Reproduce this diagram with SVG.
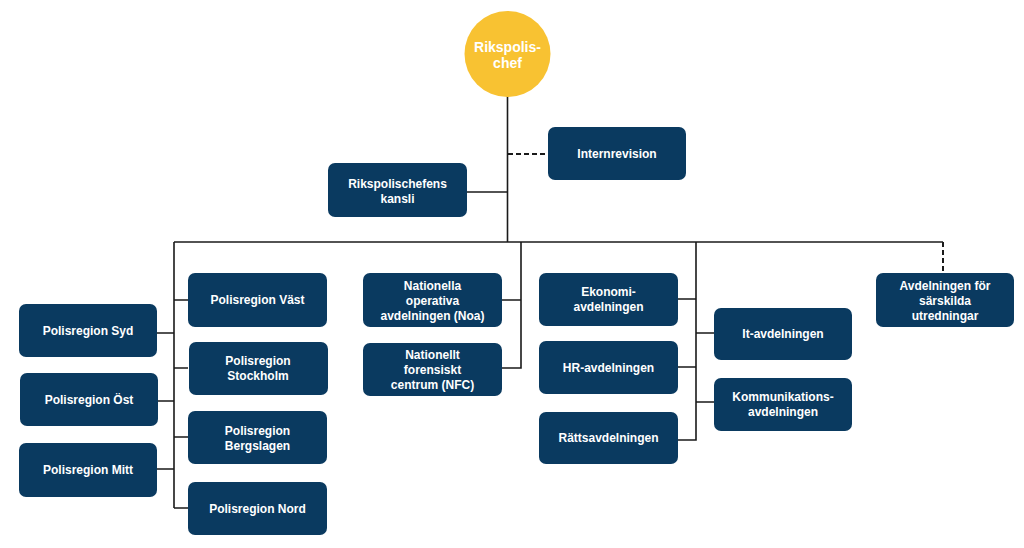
<svg xmlns="http://www.w3.org/2000/svg" width="1024" height="548" viewBox="0 0 1024 548">
<style>
.box{fill:#0A3A60}
.t{font-family:"Liberation Sans",Arial,sans-serif;font-weight:bold;font-size:12px;fill:#fff;text-anchor:middle}
.c{font-size:14px}
.ln{stroke:#1a1a1a;stroke-width:1.6;fill:none}
.d{stroke-dasharray:5,3;stroke-width:2}
</style>
<rect width="1024" height="548" fill="#fff"/>
<g id="connectors">
<path class="ln" d="M507.5,96 V242"/>
<path class="ln" d="M467,192 H507.5"/>
<path class="ln d" d="M508,154 H548"/>
<path class="ln" d="M174,242 H943"/>
<path class="ln d" d="M943,242 V273"/>
<path class="ln" d="M174,242 V508 M157,333 H174 M157,401 H174 M157,469 H174 M174,300 H188 M174,368 H188 M174,437 H188 M174,508 H188"/>
<path class="ln" d="M521,242 V368 H502 M502,300 H521"/>
<path class="ln" d="M696,242 V440 H678 M678,299 H696 M678,367 H696 M696,333 H714 M696,402 H714"/>
</g>
<g id="rikspolischef"><circle cx="507.5" cy="54" r="43" fill="#F8C232"/><text class="t c" x="507.5" y="52">Rikspolis-</text><text class="t c" x="507.5" y="68">chef</text></g>
<g id="internrevision"><rect class="box" x="548" y="127" width="138" height="53" rx="7"/><text class="t" x="617" y="158">Internrevision</text></g>
<g id="kansli"><rect class="box" x="328" y="163" width="139" height="54" rx="7"/><text class="t" x="397.5" y="188">Rikspolischefens</text><text class="t" x="397.5" y="203">kansli</text></g>
<g id="syd"><rect class="box" x="19" y="304" width="138" height="53" rx="7"/><text class="t" x="88" y="335">Polisregion Syd</text></g>
<g id="ost"><rect class="box" x="20" y="373" width="138" height="53" rx="7"/><text class="t" x="89" y="404">Polisregion Öst</text></g>
<g id="mitt"><rect class="box" x="19" y="443" width="138" height="54" rx="7"/><text class="t" x="88" y="474">Polisregion Mitt</text></g>
<g id="vast"><rect class="box" x="188" y="273" width="139" height="54" rx="7"/><text class="t" x="257.5" y="304">Polisregion Väst</text></g>
<g id="stockholm"><rect class="box" x="189" y="342" width="139" height="53" rx="7"/><text class="t" x="258" y="365">Polisregion</text><text class="t" x="258" y="380">Stockholm</text></g>
<g id="bergslagen"><rect class="box" x="188" y="411" width="139" height="53" rx="7"/><text class="t" x="257.5" y="435">Polisregion</text><text class="t" x="257.5" y="450">Bergslagen</text></g>
<g id="nord"><rect class="box" x="188" y="482" width="139" height="53" rx="7"/><text class="t" x="257.5" y="513">Polisregion Nord</text></g>
<g id="noa"><rect class="box" x="363" y="273" width="139" height="54" rx="7"/><text class="t" x="432.5" y="290">Nationella</text><text class="t" x="432.5" y="305">operativa</text><text class="t" x="432.5" y="320">avdelningen (Noa)</text></g>
<g id="nfc"><rect class="box" x="363" y="343" width="139" height="53" rx="7"/><text class="t" x="432.5" y="359">Nationellt</text><text class="t" x="432.5" y="374">forensiskt</text><text class="t" x="432.5" y="389">centrum (NFC)</text></g>
<g id="ekonomi"><rect class="box" x="539" y="273" width="139" height="53" rx="7"/><text class="t" x="608.5" y="296">Ekonomi-</text><text class="t" x="608.5" y="311">avdelningen</text></g>
<g id="hr"><rect class="box" x="539" y="341" width="139" height="53" rx="7"/><text class="t" x="608.5" y="372">HR-avdelningen</text></g>
<g id="ratts"><rect class="box" x="539" y="412" width="139" height="52" rx="7"/><text class="t" x="608.5" y="442">Rättsavdelningen</text></g>
<g id="it"><rect class="box" x="714" y="308" width="138" height="52" rx="7"/><text class="t" x="783" y="338">It-avdelningen</text></g>
<g id="kommunikation"><rect class="box" x="714" y="378" width="138" height="53" rx="7"/><text class="t" x="783" y="401">Kommunikations-</text><text class="t" x="783" y="416">avdelningen</text></g>
<g id="sarskilda"><rect class="box" x="876" y="273" width="138" height="54" rx="7"/><text class="t" x="945" y="290">Avdelningen för</text><text class="t" x="945" y="305">särskilda</text><text class="t" x="945" y="320">utredningar</text></g>
</svg>
